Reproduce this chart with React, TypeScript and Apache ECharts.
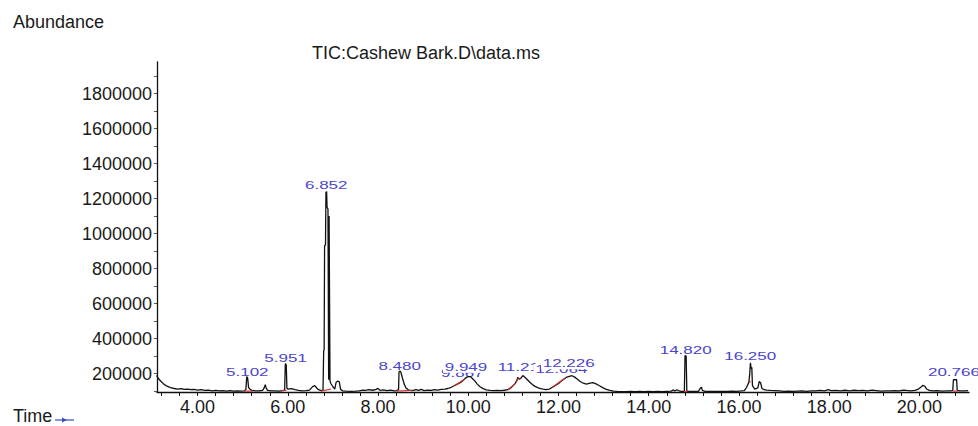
import React, { useEffect, useRef } from "react";
import * as echarts from "echarts";

// Total ion chromatogram: [retention time (min), abundance]
const tic: [number, number][] = [
  [3.09, 190000], [3.13, 172000], [3.18, 158000], [3.25, 140000], [3.32, 128000],
  [3.4, 120000], [3.48, 115000], [3.56, 112000], [3.64, 114000], [3.7, 110000],
  [3.78, 112000], [3.85, 108000], [3.92, 110000], [4.0, 106000], [4.08, 109000],
  [4.16, 104000], [4.24, 106000], [4.32, 102000], [4.4, 104000], [4.48, 101000],
  [4.56, 103000], [4.64, 100000], [4.72, 103000], [4.8, 100000], [4.88, 102000],
  [4.96, 100000], [5.04, 101000], [5.07, 110000], [5.09, 183000], [5.11, 175000],
  [5.13, 120000], [5.16, 112000], [5.2, 104000], [5.28, 101000], [5.36, 102000],
  [5.44, 104000], [5.47, 115000], [5.5, 137000], [5.52, 118000], [5.55, 104000],
  [5.64, 101000], [5.72, 102000], [5.8, 100000], [5.88, 103000], [5.93, 106000],
  [5.945, 257000], [5.965, 250000], [5.98, 118000], [6.0, 112000], [6.08, 114000],
  [6.16, 108000], [6.24, 104000], [6.32, 101000], [6.4, 103000], [6.48, 106000],
  [6.55, 126000], [6.6, 131000], [6.64, 118000], [6.68, 108000], [6.74, 103000],
  [6.78, 105000], [6.795, 330000], [6.805, 335000], [6.815, 930000], [6.835, 935000],
  [6.845, 1235000], [6.86, 1240000], [6.87, 1150000], [6.89, 1140000], [6.905, 165000],
  [6.915, 1100000], [6.935, 160000], [6.95, 145000], [7.0, 125000], [7.04, 112000],
  [7.07, 150000], [7.1, 157000], [7.14, 154000], [7.17, 110000], [7.22, 101000],
  [7.3, 100000], [7.4, 99000], [7.5, 100000], [7.58, 102000], [7.66, 106000],
  [7.72, 104000], [7.8, 108000], [7.88, 105000], [7.96, 110000], [8.0, 116000],
  [8.04, 104000], [8.12, 107000], [8.2, 103000], [8.28, 106000], [8.36, 102000],
  [8.42, 103000], [8.455, 110000], [8.465, 211000], [8.49, 215000], [8.51, 205000],
  [8.54, 175000], [8.58, 140000], [8.62, 118000], [8.68, 106000], [8.76, 103000],
  [8.84, 108000], [8.9, 104000], [8.96, 110000], [9.02, 103000], [9.1, 106000],
  [9.18, 104000], [9.25, 108000], [9.32, 106000], [9.4, 110000], [9.48, 112000],
  [9.55, 115000], [9.62, 122000], [9.7, 132000], [9.77, 141000], [9.83, 150000],
  [9.88, 160000], [9.93, 172000], [9.96, 179000], [10.0, 183000], [10.04, 183000],
  [10.08, 175000], [10.14, 160000], [10.2, 140000], [10.26, 125000], [10.33, 114000],
  [10.4, 107000], [10.48, 104000], [10.56, 103000], [10.64, 104000], [10.72, 103000],
  [10.8, 105000], [10.88, 108000], [10.95, 120000], [11.0, 133000], [11.04, 143000],
  [11.08, 165000], [11.1, 179000], [11.13, 168000], [11.16, 172000], [11.21, 189000],
  [11.26, 178000], [11.3, 168000], [11.36, 152000], [11.42, 138000], [11.48, 127000],
  [11.54, 120000], [11.6, 114000], [11.66, 111000], [11.72, 109000], [11.8, 112000],
  [11.88, 124000], [11.95, 135000], [12.03, 150000], [12.1, 165000], [12.17, 178000],
  [12.24, 184000], [12.3, 188000], [12.36, 180000], [12.42, 168000], [12.48, 155000],
  [12.55, 145000], [12.62, 140000], [12.7, 146000], [12.76, 149000], [12.82, 143000],
  [12.9, 132000], [12.98, 120000], [13.06, 110000], [13.14, 104000], [13.22, 100000],
  [13.3, 98000], [13.4, 97000], [13.5, 97000], [13.6, 98000], [13.7, 97000],
  [13.8, 98000], [13.9, 97000], [14.0, 98000], [14.1, 97000], [14.2, 99000],
  [14.3, 97000], [14.4, 99000], [14.5, 100000], [14.55, 107000], [14.58, 101000],
  [14.62, 108000], [14.66, 103000], [14.72, 99000], [14.79, 98000], [14.805, 303000],
  [14.83, 300000], [14.845, 98000], [14.9, 99000], [15.0, 98000], [15.1, 99000],
  [15.15, 118000], [15.17, 122000], [15.19, 104000], [15.25, 99000], [15.35, 98000],
  [15.45, 99000], [15.55, 98000], [15.65, 99000], [15.75, 98000], [15.85, 100000],
  [15.95, 99000], [16.05, 101000], [16.12, 103000], [16.17, 122000], [16.22, 150000],
  [16.24, 200000], [16.255, 262000], [16.27, 230000], [16.285, 236000], [16.3, 131000],
  [16.35, 112000], [16.42, 118000], [16.45, 155000], [16.48, 148000], [16.51, 115000],
  [16.56, 108000], [16.62, 106000], [16.7, 104000], [16.8, 103000], [16.9, 101000],
  [17.0, 99000], [17.1, 100000], [17.2, 98000], [17.3, 100000], [17.4, 101000],
  [17.5, 99000], [17.6, 102000], [17.7, 101000], [17.8, 104000], [17.9, 102000],
  [17.98, 108000], [18.05, 103000], [18.15, 104000], [18.25, 102000], [18.35, 105000],
  [18.45, 102000], [18.55, 105000], [18.65, 103000], [18.75, 104000], [18.85, 102000],
  [18.95, 106000], [19.05, 103000], [19.15, 100000], [19.25, 102000], [19.35, 101000],
  [19.45, 103000], [19.55, 102000], [19.65, 106000], [19.72, 104000], [19.8, 102000],
  [19.9, 104000], [19.98, 112000], [20.03, 122000], [20.08, 133000], [20.12, 128000],
  [20.16, 112000], [20.22, 104000], [20.3, 101000], [20.4, 103000], [20.5, 100000],
  [20.6, 101000], [20.7, 102000], [20.74, 104000], [20.755, 165000], [20.8, 166000],
  [20.825, 165000], [20.84, 104000], [20.9, 102000], [21.0, 101000], [21.08, 103000],
];

// Peak annotations (later labels are drawn over earlier ones)
const peakTimes = [5.102, 5.951, 6.852, 8.48, 9.867, 9.949, 11.213, 12.064, 12.226, 14.82, 16.25, 20.766];
const peakTexts = ["5.102", "5.951", "6.852", "8.480", "9.867", "9.949", "11.213", "12.064", "12.226", "14.820", "16.250", "20.766"];
const peakLabelLevels = [205000, 285000, 1274000, 240000, 202000, 236000, 236000, 223000, 257000, 335000, 297000, 205000];

// Integration baseline segments: [t1, v1, t2, v2]
const integrationSegments: [number, number, number, number][] = [
  [5.05, 100000, 5.22, 100000],
  [5.86, 101000, 5.97, 106000],
  [6.74, 100000, 6.96, 112000],
  [8.42, 100000, 8.76, 105000],
  [9.7, 132000, 9.92, 168000],
  [10.88, 108000, 11.04, 143000],
  [11.06, 150000, 11.12, 178000],
  [11.85, 120000, 12.15, 175000],
  [14.78, 98000, 14.86, 98000],
  [16.22, 150000, 16.26, 156000],
  [20.74, 100000, 20.86, 100000],
];

const timeTicks = [
  3.2, 3.6, 4.0, 4.4, 4.8, 5.2, 5.6, 6.0, 6.4, 6.8, 7.2, 7.6, 8.0, 8.4, 8.8, 9.2, 9.6,
  10.0, 10.4, 10.8, 11.2, 11.6, 12.0, 12.4, 12.8, 13.2, 13.6, 14.0, 14.4, 14.8, 15.2,
  15.6, 16.0, 16.4, 16.8, 17.2, 17.6, 18.0, 18.4, 18.8, 19.2, 19.6, 20.0, 20.4, 20.8,
];
const timeLabels = [4, 6, 8, 10, 12, 14, 16, 18, 20];
const abundanceLabels = [200000, 400000, 600000, 800000, 1000000, 1200000, 1400000, 1600000, 1800000];
const abundanceTicks = [
  100000, 200000, 300000, 400000, 500000, 600000, 700000, 800000, 900000, 1000000,
  1100000, 1200000, 1300000, 1400000, 1500000, 1600000, 1700000, 1800000, 1900000,
];

const FONT = '"Liberation Sans", Arial, sans-serif';

export default function App() {
  const ref = useRef<HTMLDivElement>(null);

  useEffect(() => {
    if (!ref.current) return;
    const chart = echarts.init(ref.current, null, { renderer: "svg" });
    const option: any = {
      animation: false,
      backgroundColor: "#ffffff",
      grid: { left: 157, right: 9, top: 62, bottom: 34, containLabel: false, outerBoundsMode: "none" },
      xAxis: {
        type: "value",
        min: 3.1,
        max: 21.1,
        axisLine: { show: true, onZero: false, lineStyle: { color: "#111", width: 1.3 } },
        axisTick: { show: true, customValues: timeTicks, length: 4, lineStyle: { color: "#111", width: 1 } },
        axisLabel: {
          customValues: timeLabels,
          formatter: (v: number) => v.toFixed(2),
          margin: 6,
          fontSize: 18,
          fontFamily: FONT,
          color: "#1a1a1a",
        },
        splitLine: { show: false },
      },
      yAxis: {
        type: "value",
        min: 95000,
        max: 1980000,
        axisLine: { show: true, onZero: false, lineStyle: { color: "#111", width: 1.3 } },
        axisTick: { show: true, customValues: abundanceTicks, length: 3, lineStyle: { color: "#555", width: 1 } },
        axisLabel: {
          customValues: abundanceLabels,
          formatter: (v: number) => String(v),
          margin: 5,
          fontSize: 18,
          fontFamily: FONT,
          color: "#1a1a1a",
        },
        splitLine: { show: false },
      },
      series: [
        {
          type: "custom",
          data: peakTimes.map((t, i) => [t, peakLabelLevels[i]]),
          encode: { x: 0, y: 1 },
          z: 1,
          clip: false,
          renderItem: (params: any, api: any) => {
            const p = api.coord([api.value(0), api.value(1)]);
            return {
              type: "text",
              x: p[0],
              y: p[1],
              scaleX: 1.7,
              scaleY: 1,
              style: {
                text: peakTexts[params.dataIndex],
                align: "center",
                verticalAlign: "middle",
                textAlign: "center",
                textVerticalAlign: "middle",
                font: `10px ${FONT}`,
                fill: "#4a44cc",
                backgroundColor: "#ffffff",
                padding: [0, 1],
                lineHeight: 11,
              },
            };
          },
        },
        {
          type: "line",
          data: tic,
          symbol: "none",
          showSymbol: false,
          lineStyle: { color: "#111", width: 1.3 },
          z: 2,
        },
        {
          type: "custom",
          data: integrationSegments,
          encode: { x: [0, 2], y: [1, 3] },
          z: 3,
          renderItem: (_p: any, api: any) => {
            const a = api.coord([api.value(0), api.value(1)]);
            const b = api.coord([api.value(2), api.value(3)]);
            return {
              type: "line",
              shape: { x1: a[0], y1: a[1], x2: b[0], y2: b[1] },
              style: { stroke: "#d0302a", lineWidth: 1.2 },
            };
          },
        },
      ],
      graphic: [
        {
          type: "text",
          left: 13,
          top: 13,
          style: { text: "Abundance", font: `18px ${FONT}`, fill: "#1a1a1a" },
        },
        {
          type: "text",
          left: 312,
          top: 44,
          style: { text: "TIC:Cashew Bark.D\\data.ms", font: `18px ${FONT}`, fill: "#1a1a1a" },
        },
        {
          type: "text",
          left: 13,
          top: 407,
          style: { text: "Time", font: `18px ${FONT}`, fill: "#1a1a1a" },
        },
        {
          type: "line",
          shape: { x1: 55, y1: 420, x2: 74, y2: 420 },
          style: { stroke: "#3b4fc0", lineWidth: 1.2 },
        },
        {
          type: "polygon",
          shape: { points: [[62, 417.5], [67, 420], [62, 422.5]] },
          style: { fill: "#3b4fc0" },
        },
      ],
    };
    chart.setOption(option);
    return () => chart.dispose();
  }, []);

  return (
    <div
      ref={ref}
      style={{ position: "fixed", left: 0, top: 0, width: 978, height: 426, background: "#fff" }}
    />
  );
}
